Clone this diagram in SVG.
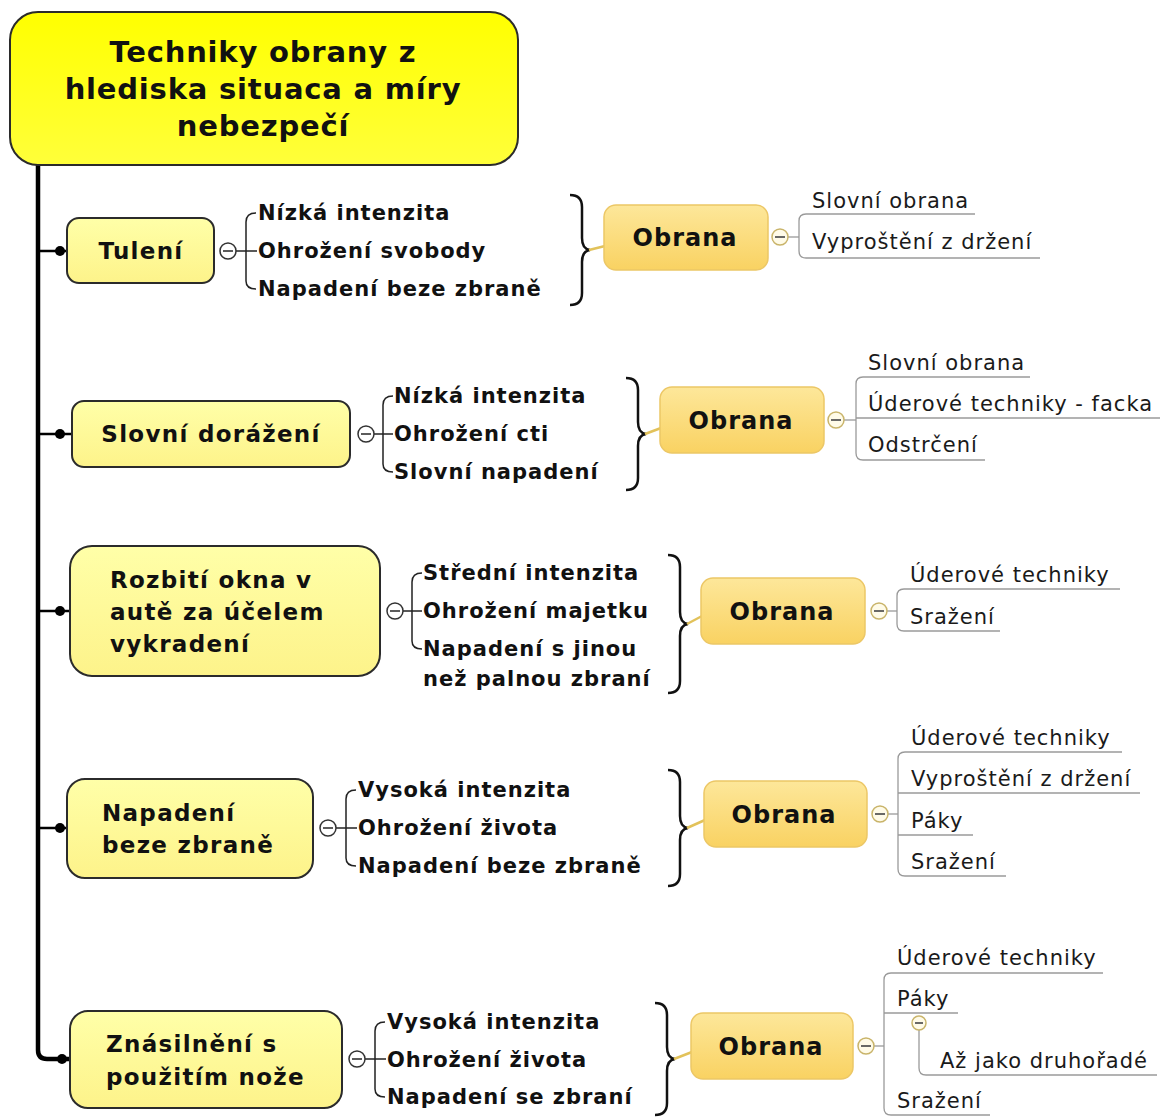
<svg xmlns="http://www.w3.org/2000/svg" width="1169" height="1118" viewBox="0 0 1169 1118">
  <defs>
    <linearGradient id="gRoot" x1="0" y1="0" x2="0" y2="1">
      <stop offset="0" stop-color="#ffff00"/>
      <stop offset="1" stop-color="#ffff3a"/>
    </linearGradient>
    <linearGradient id="gTopic" x1="0" y1="0" x2="0" y2="1">
      <stop offset="0" stop-color="#ffffa8"/>
      <stop offset="1" stop-color="#fdf38a"/>
    </linearGradient>
    <linearGradient id="gObr" x1="0" y1="0" x2="0" y2="1">
      <stop offset="0" stop-color="#fde79a"/>
      <stop offset="1" stop-color="#f9d262"/>
    </linearGradient>
  </defs>
  <style>
    .root { fill: url(#gRoot); stroke: #2b2b2b; stroke-width: 2; }
    .topic { fill: url(#gTopic); stroke: #2b2b2b; stroke-width: 2; }
    .obr { fill: url(#gObr); stroke: #ecc766; stroke-width: 1.5; }
    .bold { font-family: "DejaVu Sans", Verdana, sans-serif; font-weight: bold; fill: #111; }
    .t-root { font-size: 29px; letter-spacing: 0.8px; }
    .t-topic { font-size: 23px; letter-spacing: 1.3px; }
    .t-item { font-size: 21px; letter-spacing: 1px; }
    .t-obr { font-size: 24px; letter-spacing: 1px; }
    .t-sub { font-family: "DejaVu Sans", Verdana, sans-serif; font-size: 21px; letter-spacing: 1px; fill: #1a1a1a; }
    .trunk { fill: none; stroke: #000; stroke-width: 4.5; }
    .branch { fill: none; stroke: #000; stroke-width: 2.5; }
    .dot { fill: #000; }
    .bracket { fill: none; stroke: #222; stroke-width: 1.5; }
    .brace { fill: none; stroke: #111; stroke-width: 2.5; }
    .olive { fill: none; stroke: #e2c25a; stroke-width: 2.5; }
    .subline { fill: none; stroke: #9a9a9a; stroke-width: 1.3; }
    .coll-d { fill: #fff; stroke: #333; stroke-width: 1.5; }
    .coll-l { fill: #fffbe8; stroke: #c9b46a; stroke-width: 1.5; }
    .minus-d { stroke: #333; stroke-width: 1.6; }
    .minus-l { stroke: #444; stroke-width: 1.6; }
  </style>

  <!-- connectors -->
  <g id="connectors">
    <!-- main trunk from root down to last topic -->
    <path class="trunk" d="M38,165 L38,1050 Q38,1059 47,1059 L70,1059"/>
    <!-- trunk to topics -->
    <path class="branch" d="M38,251 L67,251"/>
    <path class="branch" d="M38,434 L72,434"/>
    <path class="branch" d="M38,611 L70,611"/>
    <path class="branch" d="M38,828 L67,828"/>
    <circle class="dot" cx="60" cy="251" r="5"/>
    <circle class="dot" cx="60" cy="434" r="5"/>
    <circle class="dot" cx="60" cy="611" r="5"/>
    <circle class="dot" cx="60" cy="828" r="5"/>
    <circle class="dot" cx="62" cy="1059" r="5"/>

    <!-- topic 1 brackets -->
    <path class="bracket" d="M236,251 L257,251"/>
    <path class="bracket" d="M256,213 Q246,213 246,222 L246,281 Q246,289 256,289"/>
    <path class="brace" d="M570,195 Q582,195 582,207 L582,238 Q582,249 590,250 Q582,251 582,262 L582,293 Q582,305 570,305"/>
    <path class="olive" d="M589,250 L605,246"/>
    <path class="subline" d="M788,237 L799,237"/>
    <path class="subline" d="M975,214 L806,214 Q799,214 799,221 L799,251 Q799,258 806,258 L1040,258"/>

    <!-- topic 2 brackets -->
    <path class="bracket" d="M374,434 L393,434"/>
    <path class="bracket" d="M393,396 Q383,396 383,405 L383,464 Q383,472 393,472"/>
    <path class="brace" d="M626,378 Q638,378 638,390 L638,422 Q638,433 646,434 Q638,435 638,446 L638,478 Q638,490 626,490"/>
    <path class="olive" d="M645,434 L661,428"/>
    <path class="subline" d="M844,420 L856,420"/>
    <path class="subline" d="M1030,377 L863,377 Q856,377 856,384 L856,453 Q856,460 863,460 L985,460"/>
    <path class="subline" d="M856,418 L1160,418"/>

    <!-- topic 3 brackets -->
    <path class="bracket" d="M403,611 L422,611"/>
    <path class="bracket" d="M422,573 Q412,573 412,582 L412,641 Q412,649 422,649"/>
    <path class="brace" d="M668,555 Q680,555 680,567 L680,612 Q680,623 688,624 Q680,625 680,636 L680,681 Q680,693 668,693"/>
    <path class="olive" d="M687,624 L702,616"/>
    <path class="subline" d="M887,611 L897,611"/>
    <path class="subline" d="M1120,589 L904,589 Q897,589 897,596 L897,624 Q897,631 904,631 L1000,631"/>

    <!-- topic 4 brackets -->
    <path class="bracket" d="M336,828 L357,828"/>
    <path class="bracket" d="M356,790 Q346,790 346,799 L346,858 Q346,866 356,866"/>
    <path class="brace" d="M668,770 Q680,770 680,782 L680,816 Q680,827 688,828 Q680,829 680,840 L680,874 Q680,886 668,886"/>
    <path class="olive" d="M687,828 L705,820"/>
    <path class="subline" d="M888,814 L898,814"/>
    <path class="subline" d="M1122,752 L905,752 Q898,752 898,759 L898,869 Q898,876 905,876 L1006,876"/>
    <path class="subline" d="M898,793 L1140,793"/>
    <path class="subline" d="M898,835 L973,835"/>

    <!-- topic 5 brackets -->
    <path class="bracket" d="M365,1059 L386,1059"/>
    <path class="bracket" d="M385,1022 Q375,1022 375,1031 L375,1089 Q375,1097 385,1097"/>
    <path class="brace" d="M655,1003 Q667,1003 667,1015 L667,1047 Q667,1058 675,1059 Q667,1060 667,1071 L667,1103 Q667,1115 655,1115"/>
    <path class="olive" d="M674,1059 L692,1052"/>
    <path class="subline" d="M874,1046 L884,1046"/>
    <path class="subline" d="M1103,973 L891,973 Q884,973 884,980 L884,1108 Q884,1115 891,1115 L990,1115"/>
    <path class="subline" d="M884,1013 L958,1013"/>
    <path class="subline" d="M919,1030 L919,1068 Q919,1075 926,1075 L1157,1075"/>
  </g>

  <!-- central topic -->
  <g id="root">
    <rect class="root" x="10" y="12" width="508" height="153" rx="28"/>
    <text class="bold t-root" text-anchor="middle" x="263" y="62">Techniky obrany z</text>
    <text class="bold t-root" text-anchor="middle" x="263" y="99">hlediska situaca a míry</text>
    <text class="bold t-root" text-anchor="middle" x="263" y="136">nebezpečí</text>
  </g>

  <!-- topic 1 -->
  <g id="tuleni">
    <rect class="topic" x="67" y="218" width="147" height="65" rx="12"/>
    <text class="bold t-topic" text-anchor="middle" x="141" y="259">Tulení</text>
    <circle class="coll-d" cx="228" cy="251" r="8"/>
    <line class="minus-d" x1="223" y1="251" x2="233" y2="251"/>
    <text class="bold t-item" x="258" y="220">Nízká intenzita</text>
    <text class="bold t-item" x="258" y="258">Ohrožení svobody</text>
    <text class="bold t-item" x="258" y="296">Napadení beze zbraně</text>
  </g>
  <g id="obrana1">
    <rect class="obr" x="604" y="205" width="164" height="65" rx="12"/>
    <text class="bold t-obr" text-anchor="middle" x="685" y="246">Obrana</text>
    <circle class="coll-l" cx="780" cy="237" r="8"/>
    <line class="minus-l" x1="775" y1="237" x2="785" y2="237"/>
    <text class="t-sub" x="812" y="208">Slovní obrana</text>
    <text class="t-sub" x="812" y="249">Vyproštění z držení</text>
  </g>

  <!-- topic 2 -->
  <g id="slovni-dorazeni">
    <rect class="topic" x="72" y="401" width="278" height="66" rx="12"/>
    <text class="bold t-topic" text-anchor="middle" x="211" y="442">Slovní dorážení</text>
    <circle class="coll-d" cx="366" cy="434" r="8"/>
    <line class="minus-d" x1="361" y1="434" x2="371" y2="434"/>
    <text class="bold t-item" x="394" y="403">Nízká intenzita</text>
    <text class="bold t-item" x="394" y="441">Ohrožení cti</text>
    <text class="bold t-item" x="394" y="479">Slovní napadení</text>
  </g>
  <g id="obrana2">
    <rect class="obr" x="660" y="387" width="164" height="66" rx="12"/>
    <text class="bold t-obr" text-anchor="middle" x="741" y="429">Obrana</text>
    <circle class="coll-l" cx="836" cy="420" r="8"/>
    <line class="minus-l" x1="831" y1="420" x2="841" y2="420"/>
    <text class="t-sub" x="868" y="370">Slovní obrana</text>
    <text class="t-sub" x="868" y="411">Úderové techniky - facka</text>
    <text class="t-sub" x="868" y="452">Odstrčení</text>
  </g>

  <!-- topic 3 -->
  <g id="rozbiti-okna">
    <rect class="topic" x="70" y="546" width="310" height="130" rx="22"/>
    <text class="bold t-topic" x="110" y="588">Rozbití okna v</text>
    <text class="bold t-topic" x="110" y="620">autě za účelem</text>
    <text class="bold t-topic" x="110" y="652">vykradení</text>
    <circle class="coll-d" cx="395" cy="611" r="8"/>
    <line class="minus-d" x1="390" y1="611" x2="400" y2="611"/>
    <text class="bold t-item" x="423" y="580">Střední intenzita</text>
    <text class="bold t-item" x="423" y="618">Ohrožení majetku</text>
    <text class="bold t-item" x="423" y="656">Napadení s jinou</text>
    <text class="bold t-item" x="423" y="686">než palnou zbraní</text>
  </g>
  <g id="obrana3">
    <rect class="obr" x="701" y="578" width="164" height="66" rx="12"/>
    <text class="bold t-obr" text-anchor="middle" x="782" y="620">Obrana</text>
    <circle class="coll-l" cx="879" cy="611" r="8"/>
    <line class="minus-l" x1="874" y1="611" x2="884" y2="611"/>
    <text class="t-sub" x="910" y="582">Úderové techniky</text>
    <text class="t-sub" x="910" y="624">Sražení</text>
  </g>

  <!-- topic 4 -->
  <g id="napadeni-beze-zbrane">
    <rect class="topic" x="67" y="779" width="246" height="99" rx="18"/>
    <text class="bold t-topic" x="102" y="821">Napadení</text>
    <text class="bold t-topic" x="102" y="853">beze zbraně</text>
    <circle class="coll-d" cx="328" cy="828" r="8"/>
    <line class="minus-d" x1="323" y1="828" x2="333" y2="828"/>
    <text class="bold t-item" x="358" y="797">Vysoká intenzita</text>
    <text class="bold t-item" x="358" y="835">Ohrožení života</text>
    <text class="bold t-item" x="358" y="873">Napadení beze zbraně</text>
  </g>
  <g id="obrana4">
    <rect class="obr" x="704" y="781" width="163" height="66" rx="12"/>
    <text class="bold t-obr" text-anchor="middle" x="784" y="823">Obrana</text>
    <circle class="coll-l" cx="880" cy="814" r="8"/>
    <line class="minus-l" x1="875" y1="814" x2="885" y2="814"/>
    <text class="t-sub" x="911" y="745">Úderové techniky</text>
    <text class="t-sub" x="911" y="786">Vyproštění z držení</text>
    <text class="t-sub" x="911" y="828">Páky</text>
    <text class="t-sub" x="911" y="869">Sražení</text>
  </g>

  <!-- topic 5 -->
  <g id="znasilneni">
    <rect class="topic" x="70" y="1011" width="272" height="97" rx="18"/>
    <text class="bold t-topic" x="106" y="1052">Znásilnění s</text>
    <text class="bold t-topic" x="106" y="1085">použitím nože</text>
    <circle class="coll-d" cx="357" cy="1059" r="8"/>
    <line class="minus-d" x1="352" y1="1059" x2="362" y2="1059"/>
    <text class="bold t-item" x="387" y="1029">Vysoká intenzita</text>
    <text class="bold t-item" x="387" y="1067">Ohrožení života</text>
    <text class="bold t-item" x="387" y="1104">Napadení se zbraní</text>
  </g>
  <g id="obrana5">
    <rect class="obr" x="691" y="1013" width="162" height="66" rx="12"/>
    <text class="bold t-obr" text-anchor="middle" x="771" y="1055">Obrana</text>
    <circle class="coll-l" cx="866" cy="1046" r="8"/>
    <line class="minus-l" x1="861" y1="1046" x2="871" y2="1046"/>
    <text class="t-sub" x="897" y="965">Úderové techniky</text>
    <text class="t-sub" x="897" y="1006">Páky</text>
    <circle class="coll-l" cx="919" cy="1023" r="7"/>
    <line class="minus-l" x1="915" y1="1023" x2="923" y2="1023"/>
    <text class="t-sub" x="940" y="1068">Až jako druhořadé</text>
    <text class="t-sub" x="897" y="1108">Sražení</text>
  </g>
</svg>
